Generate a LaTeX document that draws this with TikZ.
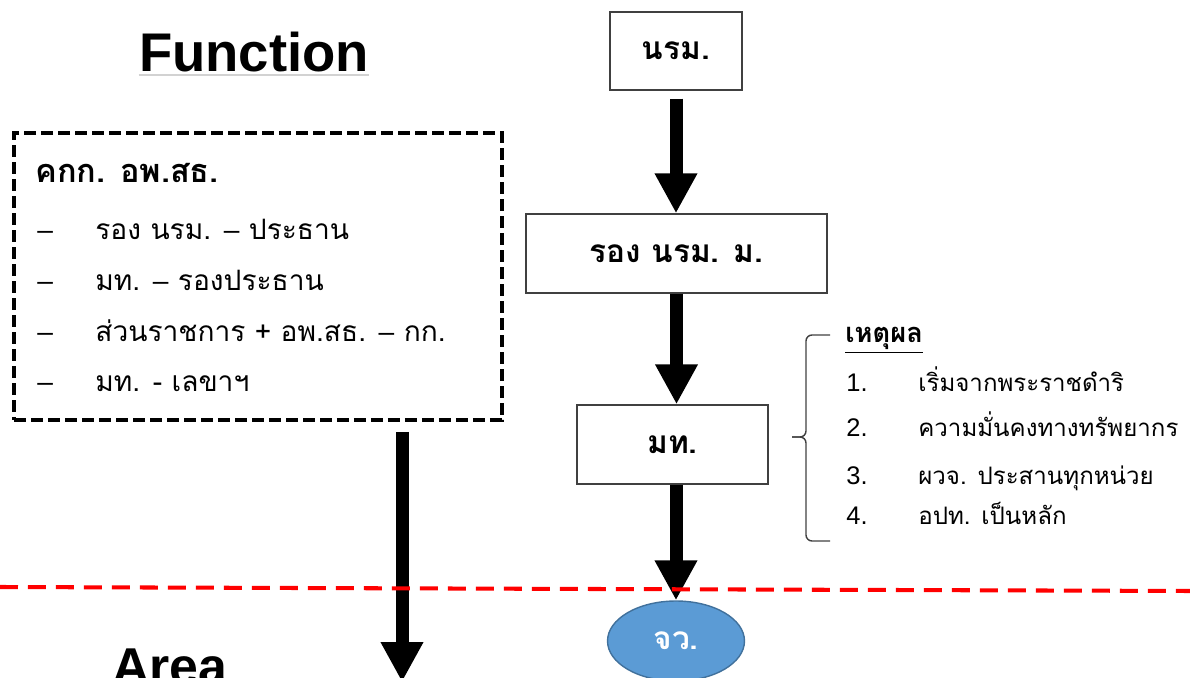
\documentclass[tikz,border=0pt]{standalone}
\usepackage{fontspec}
\setmainfont{Liberation Sans}
\newfontfamily\thaifont[Script=Thai]{Loma}
\usepackage{tikz}
\usetikzlibrary{shapes.geometric, arrows.meta}
\definecolor{provblue}{HTML}{5B9BD5}
\definecolor{provedge}{HTML}{41719C}
\definecolor{boxedge}{HTML}{404040}
\newcommand{\dashsep}{{\rmfamily\textendash}}
\tikzstyle{title} = [inner sep=0pt, font=\fontsize{31}{36}\selectfont\bfseries]
\tikzstyle{office} = [rectangle, draw=boxedge, line width=0.8pt, minimum height=1.58cm, text centered, font=\thaifont\fontsize{18}{22}\selectfont\bfseries]
\tikzstyle{province} = [ellipse, draw=provedge, line width=0.8pt, fill=provblue, minimum width=2.74cm, minimum height=1.6cm, text=white, font=\thaifont\fontsize{18}{22}\selectfont\bfseries]
\tikzstyle{committee} = [rectangle, draw=black, line width=2.3pt, dash pattern=on 0.24cm off 0.1cm, minimum width=9.76cm, minimum height=5.74cm]
\tikzstyle{listhead} = [anchor=base west, inner sep=0pt, font=\thaifont\fontsize{18.5}{22}\selectfont\bfseries]
\tikzstyle{listitem} = [anchor=base west, inner sep=0pt, font=\thaifont\fontsize{16}{20}\selectfont]
\tikzstyle{reason} = [anchor=base west, inner sep=0pt, font=\thaifont\fontsize{13.7}{17}\selectfont]
\tikzstyle{bigarrow} = [line width=0.26cm, -{Triangle[width=0.8cm, length=0.8cm]}]
\tikzstyle{zoneline} = [red, line width=2.3pt, dash pattern=on 0.36cm off 0.2cm]
\tikzstyle{bracket} = [draw=boxedge, line width=0.8pt, rounded corners=0.12cm]

\begin{document}
\begin{tikzpicture}[x=0.02cm, y=-0.02cm]
	\useasboundingbox (0,0) rectangle (1190,678);
	\node (function) [title] at (254,52.5) {Function};
	\draw [gray!35, line width=1pt] ([yshift=-0.05cm]function.south west) -- ([yshift=-0.05cm]function.south east);
	\node (area) [title, anchor=north west, font=\fontsize{29.5}{34}\selectfont\bfseries] at (112,648) {Area};

	% committee
	\node (committee) [committee] at (258,276.5) {};
	\node (cttitle) [listhead] at (35,183) {คกก. อพ.สธ.};
	\node (dash1) [listitem] at (37,240) {\dashsep};
	\node (member1) [listitem] at (95,240) {รอง นรม. \dashsep{} ประธาน};
	\node (dash2) [listitem] at (37,291) {\dashsep};
	\node (member2) [listitem] at (95,291) {มท. \dashsep{} รองประธาน};
	\node (dash3) [listitem] at (37,342) {\dashsep};
	\node (member3) [listitem] at (95,342) {ส่วนราชการ + อพ.สธ. \dashsep{} กก.};
	\node (dash4) [listitem] at (37,392) {\dashsep};
	\node (member4) [listitem] at (95,392) {มท. - เลขาฯ};

	% chain
	\node (pm) [office, minimum width=2.64cm, minimum height=1.56cm] at (676,51) {นรม.};
	\node (dpm) [office, minimum width=6.02cm] at (676.5,253.5) {รอง นรม. ม.};
	\node (moi) [office, minimum width=3.82cm] at (672.5,444.5) {มท.};
	\node (prov) [province] at (676,641) {จว.};

	% reasons
	\node (reasontitle) [reason, font=\thaifont\fontsize{15.5}{18}\selectfont\bfseries] at (845,343) {\underline{เหตุผล}};
	\node (num1) [reason, font=\rmfamily\fontsize{14.5}{18}\selectfont] at (846,392) {1.};
	\node (reason1) [reason] at (918,392) {เริ่มจากพระราชดำริ};
	\node (num2) [reason, font=\rmfamily\fontsize{14.5}{18}\selectfont] at (846,437) {2.};
	\node (reason2) [reason] at (918,437) {ความมั่นคงทางทรัพยากร};
	\node (num3) [reason, font=\rmfamily\fontsize{14.5}{18}\selectfont] at (846,485) {3.};
	\node (reason3) [reason] at (918,485) {ผวจ. ประสานทุกหน่วย};
	\node (num4) [reason, font=\rmfamily\fontsize{14.5}{18}\selectfont] at (846,525) {4.};
	\node (reason4) [reason] at (918,525) {อปท. เป็นหลัก};
	\draw [bracket] (830,335) -- (806,335) -- (806,437) -- (792,437);
	\draw [bracket] (792,437) -- (806,437) -- (806,541) -- (830,541);

	\coordinate (arealink) at (402,682);
	\draw [bigarrow] (pm.south) ++(0,8) -- (pm.south |- dpm.north);
	\draw [bigarrow] (dpm.south) -- (dpm.south |- moi.north);
	\draw [bigarrow] (moi.south -| prov.north) -- (prov.north);
	\draw [bigarrow, shorten <=0.2cm] (committee.south -| arealink) -- (arealink);

	\coordinate (zonewest) at (0,587);
	\coordinate (zoneeast) at (1190,591);
	\draw [zoneline] (zonewest) -- (zoneeast);
\end{tikzpicture}
\end{document}
